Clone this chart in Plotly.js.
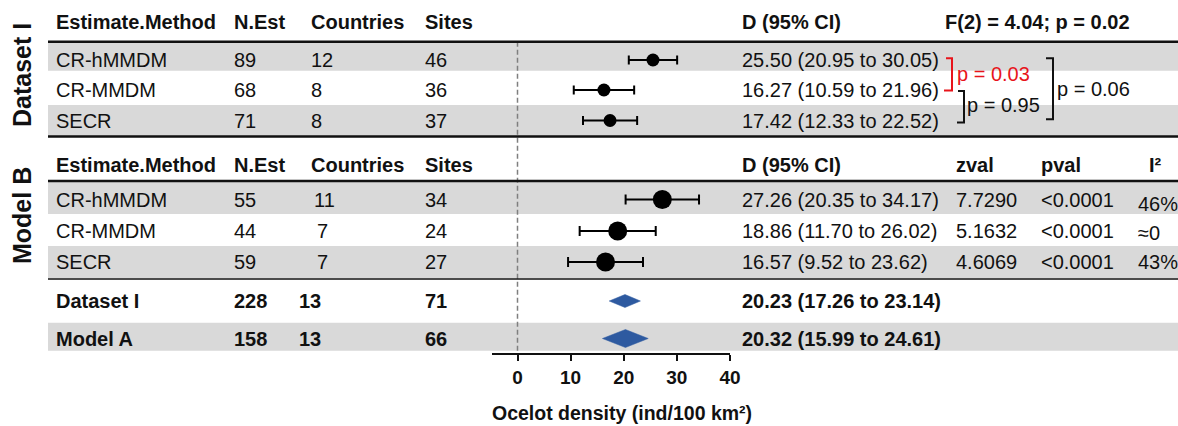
<!DOCTYPE html>
<html>
<head>
<meta charset="utf-8">
<script src="https://cdn.plot.ly/plotly-3.0.1.min.js"></script>
<style>html,body{margin:0;padding:0;background:#fff}#chart{width:1178px;height:426px}</style>
</head>
<body>
<div id="chart"></div>
<script>
// ---------------- DATA ----------------
const methods = ['CR-hMMDM', 'CR-MMDM', 'SECR'];
const colHeaders = ['Estimate.Method', 'N.Est', 'Countries', 'Sites'];

// Dataset I
const ds1Nest = [89, 68, 71];
const ds1Countries = [12, 8, 8];
const ds1Sites = [46, 36, 37];
const ds1Est = [25.50, 16.27, 17.42];
const ds1Lo = [20.95, 10.59, 12.33];
const ds1Hi = [30.05, 21.96, 22.52];
const ds1FTest = 'F(2) = 4.04; p = 0.02';
const pairwiseP = ['p = 0.03', 'p = 0.95', 'p = 0.06'];

// Model B
const mbNest = [55, 44, 59];
const mbCountries = [11, 7, 7];
const mbSites = [34, 24, 27];
const mbEst = [27.26, 18.86, 16.57];
const mbLo = [20.35, 11.70, 9.52];
const mbHi = [34.17, 26.02, 23.62];
const mbZval = ['7.7290', '5.1632', '4.6069'];
const mbPval = ['<0.0001', '<0.0001', '<0.0001'];
const mbI2 = ['46%', '≈0', '43%'];
const mbStatHeaders = ['zval', 'pval', 'I²'];

// Pooled summaries
const sumLabels = ['Dataset I', 'Model A'];
const sumNest = [228, 158];
const sumCountries = [13, 13];
const sumSites = [71, 66];
const sumEst = [20.23, 20.32];
const sumLo = [17.26, 15.99];
const sumHi = [23.14, 24.61];

const xTicks = [0, 10, 20, 30, 40];
const xTitle = 'Ocelot density (ind/100 km²)';
const sectionLabels = ['Dataset I', 'Model B'];

// ---------------- LAYOUT CONSTANTS (pixels) ----------------
const W = 1178, H = 426;
const AX_BOTTOM = 352.7;
const px = v => v / W;
const FONT = 'Liberation Sans, Arial, Helvetica, sans-serif';
const BLACK = '#111111';
const RED = '#e8141b';
const GRAY = '#d9d9d9';
const BLUE = '#2e5aa0';

const colX = [55, 233, 310, 424];
const colX2 = [55, 233, 313, 424];
const colXSum = [55, 233, 298, 424];
const ciX = 741;
const statX = [955, 1040, 1137];
const statHeadX = [955, 1040, 1148];

const s1HeaderY = 22;
const s1RowY = [60, 90, 120.5];
const s2HeaderY = 165;
const s2RowY = [199.5, 231, 262];
const i2Y = [204, 232.5, 262];
const sumY = [301, 338.5];
const diamondHalf = [6.5, 9];

const fmt = v => v.toFixed(2);
const ci = (e, l, h) => `${fmt(e)} (${fmt(l)} to ${fmt(h)})`;

const annotations = [];
function txt(x, y, text, color) {
  annotations.push({
    x: px(x), y: y, xref: 'paper', yref: 'y', text: text, showarrow: false,
    xanchor: 'left', yanchor: 'middle', align: 'left', borderpad: 0,
    font: {family: FONT, size: 20, color: color || BLACK}
  });
}
const bold = s => '<b>' + s + '</b>';

// section 1 header
colHeaders.forEach((h, i) => txt(colX[i], s1HeaderY, bold(h)));
txt(ciX, s1HeaderY, bold('D (95% CI)'));
txt(944, s1HeaderY, bold(ds1FTest));
methods.forEach((m, i) => {
  const y = s1RowY[i];
  txt(colX[0], y, m);
  txt(colX[1], y, String(ds1Nest[i]));
  txt(colX[2], y, String(ds1Countries[i]));
  txt(colX[3], y, String(ds1Sites[i]));
  txt(ciX, y, ci(ds1Est[i], ds1Lo[i], ds1Hi[i]));
});
// pairwise p texts
txt(956, 74, pairwiseP[0], RED);
txt(966, 105, pairwiseP[1]);
txt(1056, 89, pairwiseP[2]);

// section 2 header
colHeaders.forEach((h, i) => txt(colX[i], s2HeaderY, bold(h)));
txt(ciX, s2HeaderY, bold('D (95% CI)'));
mbStatHeaders.forEach((h, i) => txt(statHeadX[i], s2HeaderY, bold(h)));
methods.forEach((m, i) => {
  const y = s2RowY[i];
  txt(colX2[0], y, m);
  txt(colX2[1], y, String(mbNest[i]));
  txt(colX2[2] + (mbCountries[i] < 10 ? 3 : 0), y, String(mbCountries[i]));
  txt(colX2[3], y, String(mbSites[i]));
  txt(ciX, y, ci(mbEst[i], mbLo[i], mbHi[i]));
  txt(statX[0], y, mbZval[i]);
  txt(statX[1], y, mbPval[i].replace('<', '&lt;'));
  txt(statX[2], i2Y[i], mbI2[i]);
});
// summaries
sumLabels.forEach((l, i) => {
  const y = sumY[i];
  txt(colXSum[0], y, bold(l));
  txt(colXSum[1], y, bold(String(sumNest[i])));
  txt(colXSum[2], y, bold(String(sumCountries[i])));
  txt(colXSum[3], y, bold(String(sumSites[i])));
  txt(ciX, y, bold(ci(sumEst[i], sumLo[i], sumHi[i])));
});
// section side labels
annotations.push({x: px(22), y: 75, xref: 'paper', yref: 'y', text: bold(sectionLabels[0]), textangle: -90,
  showarrow: false, xanchor: 'center', yanchor: 'middle', font: {family: FONT, size: 25, color: BLACK}});
annotations.push({x: px(22), y: 216, xref: 'paper', yref: 'y', text: bold(sectionLabels[1]), textangle: -90,
  showarrow: false, xanchor: 'center', yanchor: 'middle', font: {family: FONT, size: 25, color: BLACK}});
// axis title
annotations.push({x: px(622), y: 1 - 413 / H, xref: 'paper', yref: 'paper', text: bold(xTitle),
  showarrow: false, xanchor: 'center', yanchor: 'middle', font: {family: FONT, size: 19.5, color: BLACK}});

// ---------------- SHAPES ----------------
const shapes = [];
[[42.7, 70.7], [105, 136], [182, 214], [246, 278], [322.7, 350.7]].forEach(b => shapes.push({
  type: 'rect', xref: 'paper', yref: 'y', x0: px(48), x1: 1, y0: b[0], y1: b[1],
  fillcolor: GRAY, line: {width: 0}, layer: 'below'
}));
[[41.7, 2.5], [136.5, 2.5], [181, 2.5], [279, 1.5]].forEach(l => shapes.push({
  type: 'line', xref: 'paper', yref: 'y', x0: px(48), x1: 1, y0: l[0], y1: l[0],
  line: {color: BLACK, width: l[1]}
}));
// reference line at zero
shapes.push({type: 'line', xref: 'x', yref: 'y', x0: 0, x1: 0, y0: 41.7, y1: AX_BOTTOM,
  line: {color: '#7f7f7f', width: 1.5, dash: '5px,3px'}, layer: 'below'});
// brackets
function bracket(xl, xv, y0, y1, color, xlBottom) {
  shapes.push({type: 'path', xref: 'paper', yref: 'y',
    path: `M ${px(xl)} ${y0} L ${px(xv)} ${y0} L ${px(xv)} ${y1} L ${px(xlBottom || xl)} ${y1}`,
    line: {color: color, width: 2}});
}
bracket(946, 952, 58.3, 90.5, RED, 944);
bracket(958, 964, 91, 122.5, BLACK, 957);
bracket(1046, 1053, 58.3, 119.3, BLACK);

// ---------------- TRACES ----------------
const traces = [];
traces.push({
  type: 'scatter', mode: 'markers', xaxis: 'x', yaxis: 'y',
  x: ds1Est, y: s1RowY,
  marker: {color: 'black', size: 13, opacity: 1},
  error_x: {type: 'data', symmetric: false,
    array: ds1Hi.map((h, i) => h - ds1Est[i]), arrayminus: ds1Lo.map((l, i) => ds1Est[i] - l),
    color: 'black', thickness: 2, width: 4.5},
  hoverinfo: 'skip', showlegend: false, cliponaxis: false
});
traces.push({
  type: 'scatter', mode: 'markers', xaxis: 'x', yaxis: 'y',
  x: mbEst, y: s2RowY,
  marker: {color: 'black', size: 19, opacity: 1},
  error_x: {type: 'data', symmetric: false,
    array: mbHi.map((h, i) => h - mbEst[i]), arrayminus: mbLo.map((l, i) => mbEst[i] - l),
    color: 'black', thickness: 2, width: 5},
  hoverinfo: 'skip', showlegend: false, cliponaxis: false
});
sumEst.forEach((e, i) => {
  const c = sumY[i], h = diamondHalf[i];
  traces.push({
    type: 'scatter', mode: 'lines', xaxis: 'x', yaxis: 'y',
    x: [sumLo[i], e, sumHi[i], e, sumLo[i]], y: [c, c - h, c, c + h, c],
    fill: 'toself', fillcolor: BLUE, line: {color: BLUE, width: 0.5},
    hoverinfo: 'skip', showlegend: false
  });
});

const layout = {
  width: W, height: H,
  margin: {l: 0, r: 0, t: 0, b: 0, pad: 0},
  paper_bgcolor: 'white', plot_bgcolor: 'rgba(0,0,0,0)',
  showlegend: false,
  xaxis: {
    domain: [px(492), px(730)], range: [-4.8, 40], autorange: false,
    tickvals: xTicks, ticktext: xTicks.map(t => '<b>' + t + '</b>'),
    ticks: 'outside', ticklen: 6, tickwidth: 2, tickcolor: BLACK,
    showline: true, linecolor: BLACK, linewidth: 2,
    showgrid: false, zeroline: false,
    tickfont: {family: FONT, size: 19, color: BLACK},
    anchor: 'y', fixedrange: true
  },
  yaxis: {
    domain: [1 - AX_BOTTOM / H, 1], range: [AX_BOTTOM, 0], autorange: false,
    visible: false, showgrid: false, zeroline: false, fixedrange: true
  },
  annotations: annotations,
  shapes: shapes
};

Plotly.newPlot('chart', traces, layout, {displayModeBar: false, staticPlot: true});
</script>
</body>
</html>
